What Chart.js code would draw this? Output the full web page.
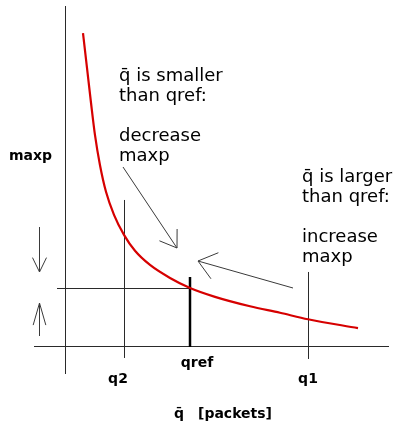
<!DOCTYPE html>
<html>
<head>
<meta charset="utf-8">
<script src="https://cdn.jsdelivr.net/npm/chart.js@4.4.1/dist/chart.umd.min.js"></script>
<style>
  html, body { margin: 0; padding: 0; background: #ffffff; }
  canvas { display: block; }
</style>
</head>
<body>
<canvas id="chart" width="395" height="426"></canvas>
<script>
// Average queue length q̄ (packets) along the operating curve
const queueAvg = [1.44, 1.76, 2.08, 2.4, 2.8, 3.28, 3.92, 4.72, 5.6, 6.8, 8.4, 10.0, 12.0, 14.8, 17.2, 19.44, 23.44];
// maxp needed to hold the queue at that length
const maxpValues = [0.532, 0.473, 0.414, 0.359, 0.308, 0.263, 0.224, 0.190, 0.163, 0.139, 0.117, 0.100, 0.085, 0.069, 0.058, 0.047, 0.032];

// Marked queue lengths on the horizontal axis
const levelNames = ['q2', 'qref', 'q1'];
const levelQueue = [4.72, 10, 19.44];
// maxp at the target queue length qref
const maxpAtRef = 0.1;

// Annotation texts
const noteSmaller = ['q\u0304 is smaller', 'than qref:', '', 'decrease', 'maxp'];
const noteLarger = ['q\u0304 is larger', 'than qref:', '', 'increase', 'maxp'];
const yAxisName = 'maxp';
const xAxisName = ['q\u0304', '[packets]'];

const curve = queueAvg.map((q, i) => ({ x: q, y: maxpValues[i] }));

function crisp(v) { return Math.round(v) + 0.5; }

function line(ctx, x1, y1, x2, y2) {
  ctx.beginPath();
  ctx.moveTo(x1, y1);
  ctx.lineTo(x2, y2);
  ctx.stroke();
}

function arrow(ctx, x1, y1, x2, y2, barb, angleDeg) {
  line(ctx, x1, y1, x2, y2);
  const a = Math.atan2(y1 - y2, x1 - x2);
  const d = angleDeg * Math.PI / 180;
  ctx.beginPath();
  ctx.moveTo(x2 + barb * Math.cos(a - d), y2 + barb * Math.sin(a - d));
  ctx.lineTo(x2, y2);
  ctx.lineTo(x2 + barb * Math.cos(a + d), y2 + barb * Math.sin(a + d));
  ctx.stroke();
}

// Guide lines from the axes to the marked queue lengths
const guides = {
  id: 'guides',
  beforeDatasetsDraw(chart) {
    const { ctx, scales: { x, y } } = chart;
    const x0 = x.getPixelForValue(0);
    const y0 = y.getPixelForValue(0);
    const yRef = y.getPixelForValue(maxpAtRef);
    const [xq2, xref, xq1] = levelQueue.map(v => x.getPixelForValue(v));
    ctx.save();
    ctx.strokeStyle = '#2a2a2a';
    ctx.lineWidth = 1;
    line(ctx, crisp(xq2), y0 - 147, crisp(xq2), y0 + 11);
    line(ctx, crisp(xq1), y0 - 75, crisp(xq1), y0 + 12);
    line(ctx, x0 - 8, crisp(yRef), xref, crisp(yRef));
    ctx.strokeStyle = '#000000';
    ctx.lineWidth = 2.5;
    line(ctx, xref, yRef - 11, xref, y0);
    ctx.restore();
  }
};

// Labels, explanatory notes and arrows
const notes = {
  id: 'notes',
  afterDatasetsDraw(chart) {
    const { ctx, scales: { x, y } } = chart;
    const y0 = y.getPixelForValue(0);
    ctx.save();
    ctx.fillStyle = '#000000';
    ctx.textBaseline = 'alphabetic';

    ctx.font = '18px "DejaVu Sans"';
    ctx.textAlign = 'left';
    noteSmaller.forEach((t, i) => { if (t) ctx.fillText(t, 119, 81 + i * 20); });
    noteLarger.forEach((t, i) => { if (t) ctx.fillText(t, 302, 182 + i * 20); });

    ctx.font = 'bold 14px "DejaVu Sans"';
    ctx.fillText(yAxisName, 9, 160);

    ctx.textAlign = 'center';
    const shift = [-6, 7, 0];
    const drop = [36, 20, 36];
    levelQueue.forEach((q, i) => {
      ctx.fillText(levelNames[i], x.getPixelForValue(q) + shift[i], y0 + drop[i]);
    });
    ctx.textAlign = 'left';
    ctx.fillText(xAxisName[0], 174, 418);
    ctx.fillText(xAxisName[1], 198, 418);

    ctx.strokeStyle = '#3a3a3a';
    ctx.lineWidth = 1;
    arrow(ctx, 123, 167, 177, 248, 19, 34);
    arrow(ctx, 293, 288, 198, 261, 22, 38);
    arrow(ctx, 39.5, 227, 39.5, 272, 16, 26);
    arrow(ctx, 39.5, 336, 39.5, 303, 23, 16);
    ctx.restore();
  }
};

new Chart(document.getElementById('chart'), {
  type: 'line',
  data: {
    datasets: [{
      data: curve,
      borderColor: '#d60000',
      borderWidth: 2.2,
      pointRadius: 0,
      cubicInterpolationMode: 'monotone',
      fill: false
    }]
  },
  options: {
    responsive: false,
    animation: false,
    devicePixelRatio: 1,
    layout: { padding: { left: 34, right: 7, top: 6, bottom: 53 } },
    plugins: { legend: { display: false }, tooltip: { enabled: false } },
    scales: {
      x: {
        type: 'linear',
        min: -2.48,
        max: 25.84,
        position: { y: 0 },
        grid: { display: false, drawTicks: false },
        border: { display: true, color: '#2a2a2a', width: 1 },
        ticks: { display: false }
      },
      y: {
        type: 'linear',
        min: -0.0441,
        max: 0.578,
        position: { x: 0 },
        grid: { display: false, drawTicks: false },
        border: { display: true, color: '#2a2a2a', width: 1 },
        ticks: { display: false }
      }
    }
  },
  plugins: [guides, notes]
});
</script>
</body>
</html>
